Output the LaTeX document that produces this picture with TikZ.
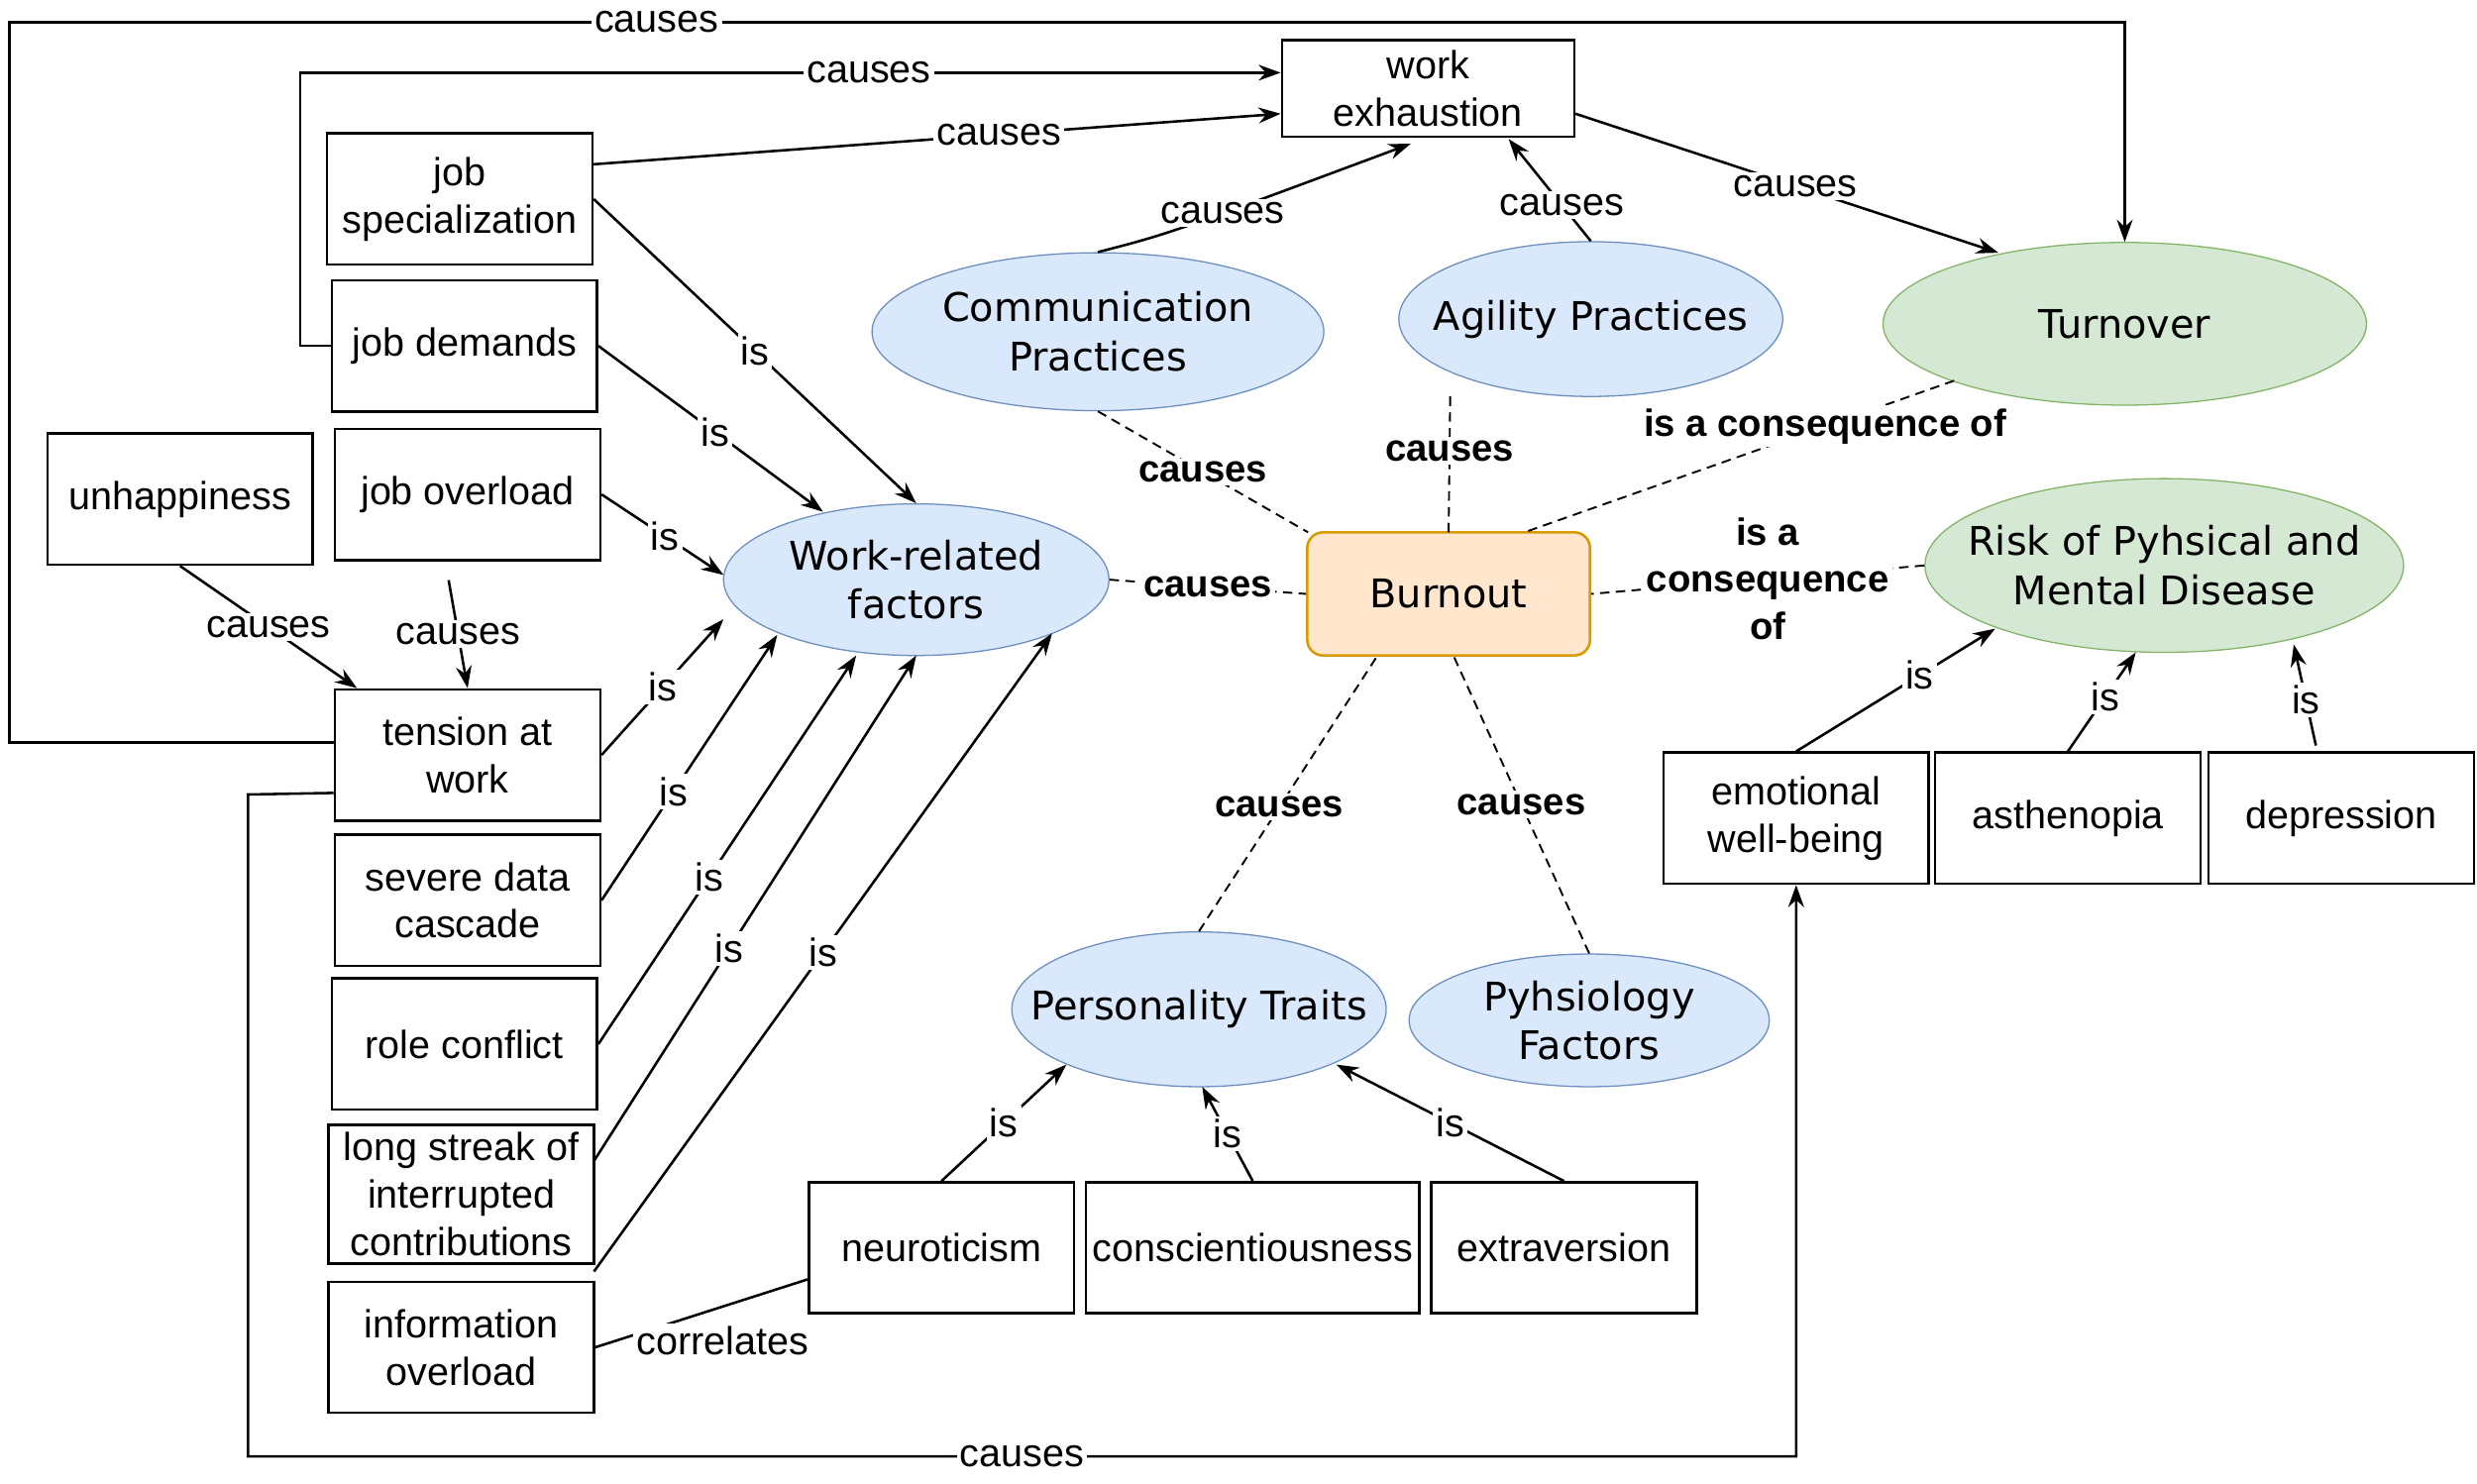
\documentclass[tikz,border=0pt]{standalone}
\usepackage{fontspec}
\setmainfont{Liberation Sans}
\newfontfamily\ellfont{DejaVu Sans}
\usetikzlibrary{shapes.geometric,arrows.meta}
\definecolor{bfill}{HTML}{DAE8FC}\definecolor{bline}{HTML}{6C8EBF}
\definecolor{gfill}{HTML}{D5E8D4}\definecolor{gline}{HTML}{82B366}
\definecolor{ofill}{HTML}{FFE6CC}\definecolor{oline}{HTML}{D79B00}
\begin{document}
\begin{tikzpicture}[x=0.5pt,y=-0.5pt,
 box/.style={draw,thick,align=center,minimum width=84pt,minimum height=41.5pt,inner sep=1pt,font=\fontsize{12.4}{15}\selectfont},
 ell/.style={ellipse,draw=bline,fill=bfill,align=center,inner xsep=-25pt,inner ysep=-8pt,font=\ellfont\fontsize{12.5}{15.5}\selectfont},
 gell/.style={ell,draw=gline,fill=gfill},
 arr/.style={-{Stealth[length=7pt,width=5pt]},thick},
 ln/.style={thick},
 dsh/.style={densely dashed,semithick},
 lbl/.style={fill=white,inner sep=1pt,font=\fontsize{12.4}{15}\selectfont},
 blbl/.style={fill=white,inner sep=1pt,align=center,font=\bfseries\fontsize{12}{15}\selectfont}]
\useasboundingbox (0,0) rectangle (1568,939);
% boxes
\node[box,minimum width=92.5pt,minimum height=30.5pt] (we) at (904,56) {work\\exhaustion};
\node[box] (js) at (291,126) {job\\specialization};
\node[box] (jd) at (294,219) {job demands};
\node[box] (jo) at (296,313) {job overload};
\node[box] (un) at (114,316) {unhappiness};
\node[box] (tw) at (296,478) {tension at\\work};
\node[box] (sd) at (296,570) {severe data\\cascade};
\node[box] (rc) at (294,661) {role conflict};
\node[box,minimum height=44pt] (ls) at (292,756) {long streak of\\interrupted\\contributions};
\node[box] (io) at (292,853) {information\\overload};
\node[box] (ne) at (596,790) {neuroticism};
\node[box,minimum width=105.5pt] (co) at (793,790) {conscientiousness};
\node[box] (ex) at (990,790) {extraversion};
\node[box] (ew) at (1137,518) {emotional\\well-being};
\node[box] (as) at (1309,518) {asthenopia};
\node[box] (de) at (1482,518) {depression};
% ellipses
\node[draw=oline,fill=ofill,rounded corners=5pt,thick,minimum width=89.5pt,minimum height=39pt,font=\ellfont\fontsize{12.5}{15.5}\selectfont] (bu) at (917,376) {Burnout};
\node[ell,minimum width=143pt,minimum height=50pt] (cp) at (695,210) {Communication\\Practices};
\node[ell,minimum width=121.5pt,minimum height=49pt] (ap) at (1007,202) {Agility Practices};
\node[gell,minimum width=153pt,minimum height=51.5pt] (tu) at (1345,205) {Turnover};
\node[gell,minimum width=151.5pt,minimum height=55pt] (ri) at (1370,358) {Risk of Pyhsical and\\Mental Disease};
\node[ell,minimum width=122pt,minimum height=48pt] (wr) at (580,367) {Work-related\\factors};
\node[ell,minimum width=118.5pt,minimum height=49pt] (pt) at (759,639) {Personality Traits};
\node[ell,minimum width=114pt,minimum height=42pt] (pf) at (1006,646) {Pyhsiology\\Factors};
% causes edges
\draw[arr] (un.south) -- node[lbl,pos=.5]{causes} ([xshift=-35pt]tw.north);
\draw[arr] ([xshift=-6pt,yshift=-6pt]jo.south) -- node[lbl,pos=.5]{causes} (tw.north);
\draw[arr] ([yshift=4pt]tw.west) -- (6,470) -- (6,14) -- node[lbl,pos=.306]{causes} (1345,14) -- (tu.north);
\draw[arr] (jd.west) -- (190,219) -- (190,46) -- node[lbl,pos=.58]{causes} ([yshift=5pt]we.west);
\draw[arr] ([yshift=11pt]js.east) -- node[lbl,pos=.59]{causes} ([yshift=-8pt]we.west);
\draw[arr] (cp.north) .. controls (740,148) .. node[lbl,pos=.62]{causes} (893,91);
\draw[arr] (ap.north) -- node[lbl,pos=.35]{causes} (955,88);
\draw[arr] ([yshift=-8pt]we.east) -- node[lbl,pos=.52]{causes} (1265,160);
\draw[arr] ([yshift=-12pt]tw.west) -- (157,503) -- (157,922) -- node[lbl,pos=.5]{causes} (1137,922) -- (ew.south);
% is edges
\draw[arr] (js.east) -- node[lbl,pos=.5]{is} (wr.north);
\draw[arr] (jd.east) -- node[lbl,pos=.52]{is} (521,324);
\draw[arr] (jo.east) -- node[lbl,pos=.52]{is} (458,364);
\draw[arr] (tw.east) -- node[lbl,pos=.5]{is} (458,392);
\draw[arr] (sd.east) -- node[lbl,pos=.41]{is} (492,402);
\draw[arr] (rc.east) -- node[lbl,pos=.43]{is} (542,415);
\draw[arr] (376,735) -- node[lbl,pos=.42]{is} (580,415);
\draw[arr] (376,805) -- node[lbl,pos=.5]{is} (666,401);
\draw[arr] (ne.north) -- node[lbl,pos=.5]{is} (675,674);
\draw[arr] (co.north) -- node[lbl,pos=.5]{is} (761,688);
\draw[arr] (ex.north) -- node[lbl,pos=.5]{is} (846,674);
\draw[arr] (ew.north) -- node[lbl,pos=.62]{is} (1263,398);
\draw[arr] (as.north) -- node[lbl,pos=.55]{is} (1352,413);
\draw[arr] (1466,472) -- node[lbl,pos=.45]{is} (1452,408);
\draw[ln] (io.east) -- node[lbl,pos=.6,below=5pt]{correlates} ([yshift=-10pt]ne.west);
% dashed
\draw[dsh] (wr.east) -- node[blbl,pos=.5]{causes} (bu.west);
\draw[dsh] (cp.south) -- node[blbl,pos=.5]{causes} (828,337);
\draw[dsh] (918,251) -- node[blbl,pos=.4]{causes} (917,337);
\draw[dsh] (1237,241) -- node[blbl,pos=.3]{is a consequence of} (965,337);
\draw[dsh] (ri.west) -- node[blbl,pos=.47]{is a\\consequence\\of} (bu.east);
\draw[dsh] (pt.north) -- node[blbl,pos=.45]{causes} (872,415);
\draw[dsh] (pf.north) -- node[blbl,pos=.5]{causes} (920,415);
\end{tikzpicture}
\end{document}
